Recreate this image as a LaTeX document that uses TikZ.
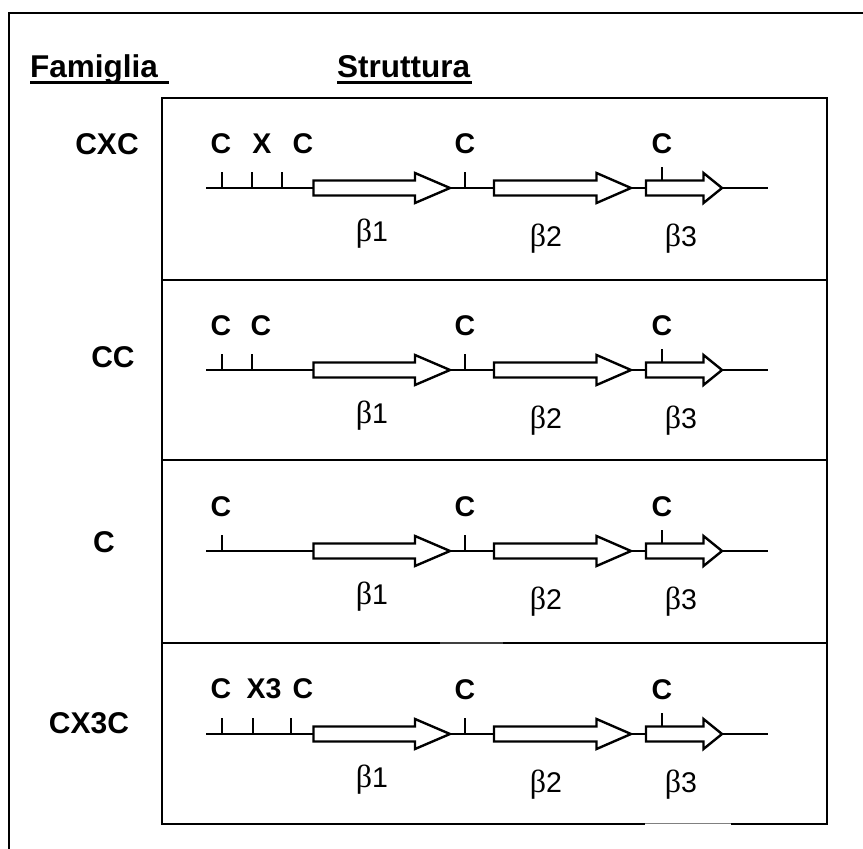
\documentclass[tikz,border=0pt]{standalone}
\usepackage{fontspec}
\setmainfont{Liberation Sans}
\newfontfamily\grk{Liberation Serif}
\begin{document}
\begin{tikzpicture}[x=1pt,y=-1pt,
  frame/.style={line width=2pt,black},
  boxline/.style={line width=2.8pt,black},
  bb/.style={line width=2.3pt,black},
  strand/.style={line width=2.4pt,black,fill=white,line join=miter},
  hdr/.style={font=\fontsize{31.5}{36}\selectfont\bfseries,inner sep=0pt,anchor=base west},
  fam/.style={font=\fontsize{30}{34}\selectfont\bfseries,inner sep=0pt,anchor=base},
  clab/.style={font=\fontsize{28.5}{32}\selectfont\bfseries,inner sep=0pt,anchor=base},
  blab/.style={font=\fontsize{28.5}{32}\selectfont,inner sep=0pt,anchor=base}]
\useasboundingbox (0,0) rectangle (863,849);
% outer frame (partially visible)
\draw[frame] (9,849) -- (9,12.5) -- (863,12.5);
% headers
\node[hdr] (famiglia) at (30,77) {Famiglia};
\node[hdr] (struttura) at (337,77) {Struttura};
\draw[line width=2.8pt] (30,82.5) -- (169,82.5);
\draw[line width=2.8pt] (337,82.5) -- (472,82.5);
% boxes
\draw[boxline] (162,98) rectangle (827,824);
\draw[boxline] (162,280) -- (827,280);
\draw[boxline] (162,460) -- (827,460);
\draw[boxline] (162,643) -- (827,643);
\draw[line width=2.8pt,white] (645,824) -- (731,824);
\draw[line width=0.8pt,gray] (645,823) -- (731,823);
\draw[line width=2.8pt,gray!50!black] (440,643) -- (503,643);
% rows
\foreach \b/\r in {188/1,370/2,551/3,734/4}{
  \draw[bb] (206,\b) -- (768,\b);
  \draw[bb] (465,\b-16) -- (465,\b);
  \draw[strand] (313.5,\b-7.5) -- (415,\b-7.5) -- (415,\b-15) -- (450,\b) -- (415,\b+15) -- (415,\b+7.5) -- (313.5,\b+7.5) -- cycle;
  \draw[strand] (494,\b-7.5) -- (596.5,\b-7.5) -- (596.5,\b-15) -- (631,\b) -- (596.5,\b+15) -- (596.5,\b+7.5) -- (494,\b+7.5) -- cycle;
  \draw[strand] (646,\b-7.5) -- (703.5,\b-7.5) -- (703.5,\b-15) -- (722,\b) -- (703.5,\b+15) -- (703.5,\b+7.5) -- (646,\b+7.5) -- cycle;
  \draw[bb] (662,\b-21) -- (662,\b-7.5);
  \node[clab] (c4r\r) at (465,\b-35) {C};
  \node[clab] (c5r\r) at (662,\b-35) {C};
  \node[blab] (b1r\r) at (372,\b+53) {{\grk\fontsize{32}{34}\selectfont β}1};
  \node[blab] (b2r\r) at (546,\b+58) {{\grk\fontsize{32}{34}\selectfont β}2};
  \node[blab] (b3r\r) at (681,\b+58) {{\grk\fontsize{32}{34}\selectfont β}3};
}
% row 1 : CXC
\node[fam] (fCXC) at (107,154) {CXC};
\foreach \x in {222,252,282} \draw[bb] (\x,172) -- (\x,188);
\node[clab] (c1r1) at (221,153) {C};
\node[clab] (c2r1) at (262,153) {X};
\node[clab] (c3r1) at (303,153) {C};
% row 2 : CC
\node[fam] (fCC) at (113,367) {CC};
\foreach \x in {222,252} \draw[bb] (\x,354) -- (\x,370);
\node[clab] (c1r2) at (221,335) {C};
\node[clab] (c2r2) at (261,335) {C};
% row 3 : C
\node[fam] (fC) at (104,552) {C};
\draw[bb] (222,535) -- (222,551);
\node[clab] (c1r3) at (221,516) {C};
% row 4 : CX3C
\node[fam] (fCX3C) at (89,733) {CX3C};
\foreach \x in {222,253,291} \draw[bb] (\x,718) -- (\x,734);
\node[clab] (c1r4) at (221,698) {C};
\node[clab] (c2r4) at (264,698) {X3};
\node[clab] (c3r4) at (303,698) {C};
\end{tikzpicture}
\end{document}
